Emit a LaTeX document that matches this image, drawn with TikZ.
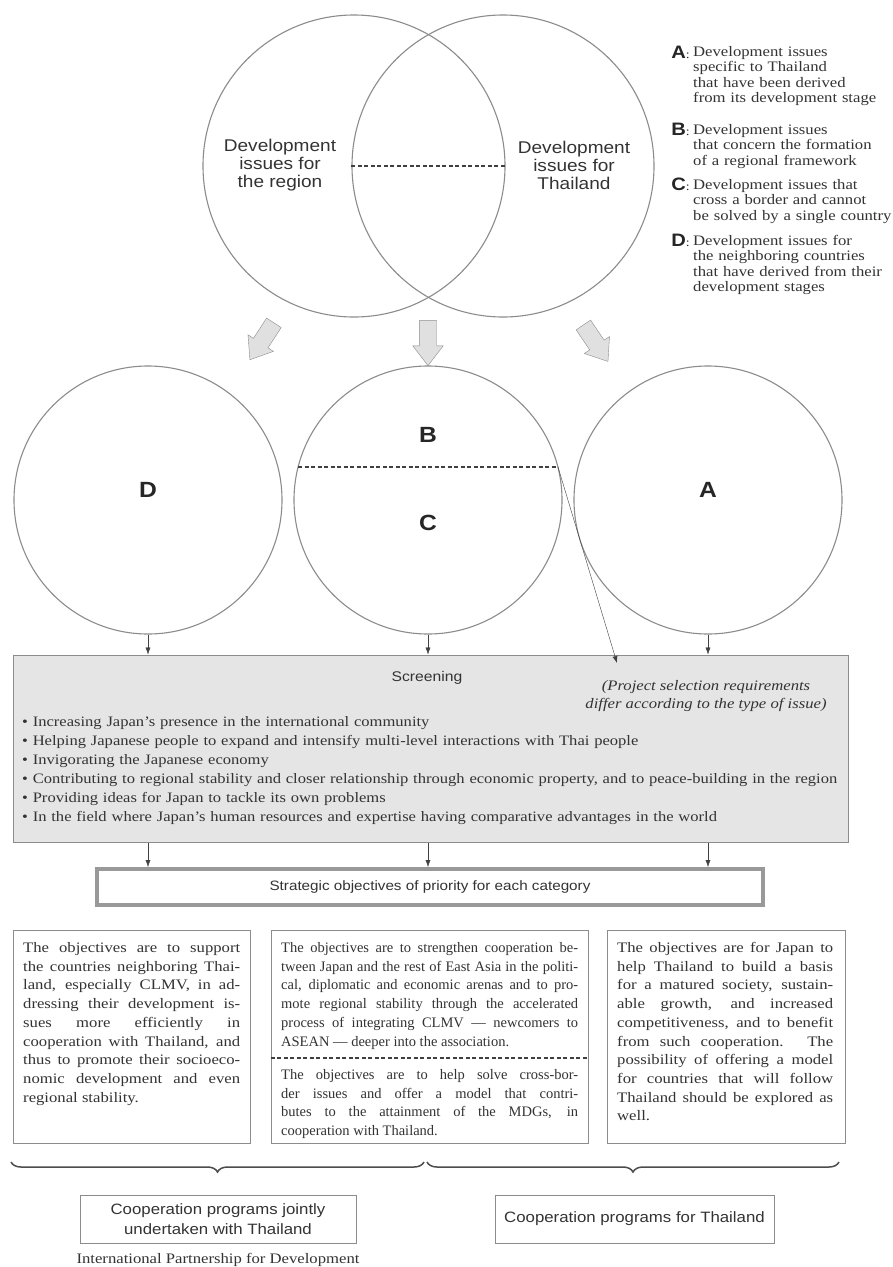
\documentclass[tikz,border=0pt]{standalone}
\usepackage{fontspec}
\setmainfont{Liberation Serif}[FakeStretch=1.15]
\setsansfont{Liberation Sans}[FakeStretch=1.12]
\newfontfamily\narrowserif{Liberation Serif}
\usetikzlibrary{shapes.arrows,decorations.pathreplacing,arrows.meta}

\begin{document}
\begin{tikzpicture}[x=1pt,y=-1pt]
    \tikzstyle{issue}=[circle,draw=black!45,line width=1.1pt,minimum size=302pt,inner sep=0pt]
    \tikzstyle{group}=[circle,draw=black!45,line width=1.1pt,minimum size=268pt,inner sep=0pt]
    \tikzstyle{venntext}=[align=center,text=black!80,font=\sffamily\fontsize{17}{18}\selectfont]
    \tikzstyle{bigletter}=[text=black!85,font=\sffamily\bfseries\fontsize{22}{22}\selectfont]
    \tikzstyle{legletter}=[anchor=base east,inner sep=0pt,text=black!85,font=\sffamily\bfseries\fontsize{18}{18}\selectfont]
    \tikzstyle{legtext}=[anchor=base west,inner sep=0pt,text width=200pt,align=left,text=black!80,font=\fontsize{14.5}{15.5}\selectfont]
    \tikzstyle{flow}=[single arrow,draw=black!45,fill=black!12,minimum height=45pt,inner xsep=0pt,inner ysep=8.5pt,single arrow head extend=6.5pt,single arrow head indent=0pt,single arrow tip angle=75]
    \tikzstyle{divider}=[draw=black!75,line width=1.6pt,dash pattern=on 4pt off 2.5pt]
    \tikzstyle{edge}=[draw=black!75,thin,-{Latex[length=7pt,width=5pt]}]
    \tikzstyle{panel}=[rectangle,draw=black!45,line width=1pt,inner sep=0pt]
    \tikzstyle{bodytext}=[anchor=base west,inner sep=0pt,align=justify,text=black!80,font=\fontsize{14.5}{18.7}\selectfont]
    \tikzstyle{sanslabel}=[align=center,text=black!80,font=\sffamily\fontsize{14}{19}\selectfont]
    \tikzstyle{groupbrace}=[draw=black!70,line width=1.5pt,decorate,decoration={brace,mirror,amplitude=10pt}]

    % background and bounding box
    \fill[white] (0,0) rectangle (892,1267);
    \useasboundingbox (0,0) rectangle (892,1267);

    % the two issue circles
    \node [issue] (region) at (354,166) {};
    \node [issue] (thai) at (503,166) {};
    \node [venntext] (regiontxt) at (280,165) {Development\\issues for\\the region};
    \node [venntext] (thaitxt) at (574,165) {Development\\issues for\\Thailand};
    \path[divider] (thai.west) -- (region.east);

    % legend
    \node [legletter] (legA) at (690,58) {A\textmd{\rmfamily\fontsize{12}{12}\selectfont:}};
    \node [legtext] (txtA) at (693,56) {Development issues\\specific to Thailand\\that have been derived\\from its development stage};
    \node [legletter] (legB) at (690,135) {B\textmd{\rmfamily\fontsize{12}{12}\selectfont:}};
    \node [legtext] (txtB) at (693,134) {Development issues\\that concern the formation\\of a regional framework};
    \node [legletter] (legC) at (690,190) {C\textmd{\rmfamily\fontsize{12}{12}\selectfont:}};
    \node [legtext] (txtC) at (693,189) {Development issues that\\cross a border and cannot\\be solved by a single country};
    \node [legletter] (legD) at (690,246) {D\textmd{\rmfamily\fontsize{12}{12}\selectfont:}};
    \node [legtext] (txtD) at (693,245) {Development issues for\\the neighboring countries\\that have derived from their\\development stages};

    % block arrows
    \node [flow,rotate=-123,minimum height=44pt] (flowD) at (265,336.5) {};
    \node [flow,rotate=-90] (flowBC) at (428,337.5) {};
    \node [flow,rotate=-56,minimum height=44pt] (flowA) at (592.5,338.5) {};

    % issue groups
    \node [group] (dcirc) at (148,500) {};
    \node [group] (bccirc) at (428,500) {};
    \node [group] (acirc) at (708,500) {};
    \node [bigletter] (dlab) at (148,490) {D};
    \node [bigletter] (blab) at (428,435) {B};
    \node [bigletter] (clab) at (428,523) {C};
    \node [bigletter] (alab) at (708,490) {A};
    \coordinate (bcw) at (298,467);
    \coordinate (bce) at (558,467);
    \path[divider] (bcw) -- (bce);

    % screening
    \node [panel,fill=black!10,minimum width=835pt,minimum height=187pt] (screen) at (430.5,748.5) {};
    \node [sanslabel] (screenlab) at (427,678) {Screening};
    \node [align=center,text=black!80,font=\itshape\fontsize{14.5}{18}\selectfont] (pnote) at (706,696) {(Project selection requirements\\differ according to the type of issue)};
    \coordinate (ptip) at (617,663);
    \path[edge] (bce) -- (ptip);
    \node [bodytext,align=left,text width=826pt,font=\fontsize{14.4}{19}\selectfont] (crit) at (22,726.5) {%
        • Increasing Japan's presence in the international community\\
        • Helping Japanese people to expand and intensify multi-level interactions with Thai people\\
        • Invigorating the Japanese economy\\
        • Contributing to regional stability and closer relationship through economic property, and to peace-building in the region\\
        • Providing ideas for Japan to tackle its own problems\\
        • In the field where Japan's human resources and expertise having comparative advantages in the world};

    \path[edge] (dcirc.south) -- (dcirc.south |- screen.north);
    \path[edge] (bccirc.south) -- (bccirc.south |- screen.north);
    \path[edge] (acirc.south) -- (acirc.south |- screen.north);

    % strategic objectives
    \node [panel,draw=black!40,line width=4pt,minimum width=666pt,minimum height=36pt,sanslabel,font=\sffamily\fontsize{13.6}{15}\selectfont] (strat) at (430,887) {Strategic objectives of priority for each category};
    \path[edge] (screen.south -| dcirc) -- (strat.north -| dcirc);
    \path[edge] (screen.south -| bccirc) -- (strat.north -| bccirc);
    \path[edge] (screen.south -| acirc) -- (strat.north -| acirc);

    % objectives for each category
    \node [panel,minimum width=237pt,minimum height=213pt] (objD) at (131.5,1036.5) {};
    \node [panel,minimum width=317pt,minimum height=213pt] (objBC) at (429.5,1036.5) {};
    \node [panel,minimum width=238pt,minimum height=213pt] (objA) at (726,1036.5) {};
    \node [bodytext,text width=217pt] (txtobjD) at (23,952.5) {The objectives are to support\linebreak the countries neighboring Thai-\linebreak land, especially CLMV, in ad-\linebreak dressing their development is-\linebreak sues more efficiently in\linebreak cooperation with Thailand, and\linebreak thus to promote their socioeco-\linebreak nomic development and even\linebreak regional stability.};
    \node [bodytext,text width=297pt,font=\narrowserif\fontsize{14.5}{18.7}\selectfont] (txtobjB) at (281,952.5) {The objectives are to strengthen cooperation be-\linebreak tween Japan and the rest of East Asia in the politi-\linebreak cal, diplomatic and economic arenas and to pro-\linebreak mote regional stability through the accelerated\linebreak process of integrating CLMV — newcomers to\linebreak ASEAN — deeper into the association.};
    \coordinate (objdivw) at (objBC.west |- 0,1058);
    \coordinate (objdive) at (objBC.east |- 0,1058);
    \path[divider] (objdivw) -- (objdive);
    \node [bodytext,text width=297pt,font=\narrowserif\fontsize{14.5}{18.7}\selectfont] (txtobjC) at (281,1079.5) {The objectives are to help solve cross-bor-\linebreak der issues and offer a model that contri-\linebreak butes to the attainment of the MDGs, in\linebreak cooperation with Thailand.};
    \node [bodytext,text width=216pt] (txtobjA) at (617,952.5) {The objectives are for Japan to\linebreak help Thailand to build a basis\linebreak for a matured society, sustain-\linebreak able growth, and increased\linebreak competitiveness, and to benefit\linebreak from such cooperation. The\linebreak possibility of offering a model\linebreak for countries that will follow\linebreak Thailand should be explored as\linebreak well.};

    % braces
    \coordinate (lb1) at (11,1162);
    \coordinate (lb2) at (424,1162);
    \coordinate (rb1) at (427,1162);
    \coordinate (rb2) at (839,1162);
    \draw[groupbrace] (lb1) -- (lb2);
    \draw[groupbrace] (rb1) -- (rb2);

    % programs
    \node [panel,sanslabel,font=\sffamily\fontsize{15}{20}\selectfont,minimum width=276pt,minimum height=48pt] (jointbox) at (218,1219) {Cooperation programs jointly\\undertaken with Thailand};
    \node [panel,sanslabel,font=\sffamily\fontsize{15}{20}\selectfont,minimum width=279pt,minimum height=48pt] (thaibox) at (634.5,1219) {Cooperation programs for Thailand};
    \node [text=black!80,font=\fontsize{14.5}{15}\selectfont] (ipd) at (218,1260) {International Partnership for Development};
\end{tikzpicture}
\end{document}
